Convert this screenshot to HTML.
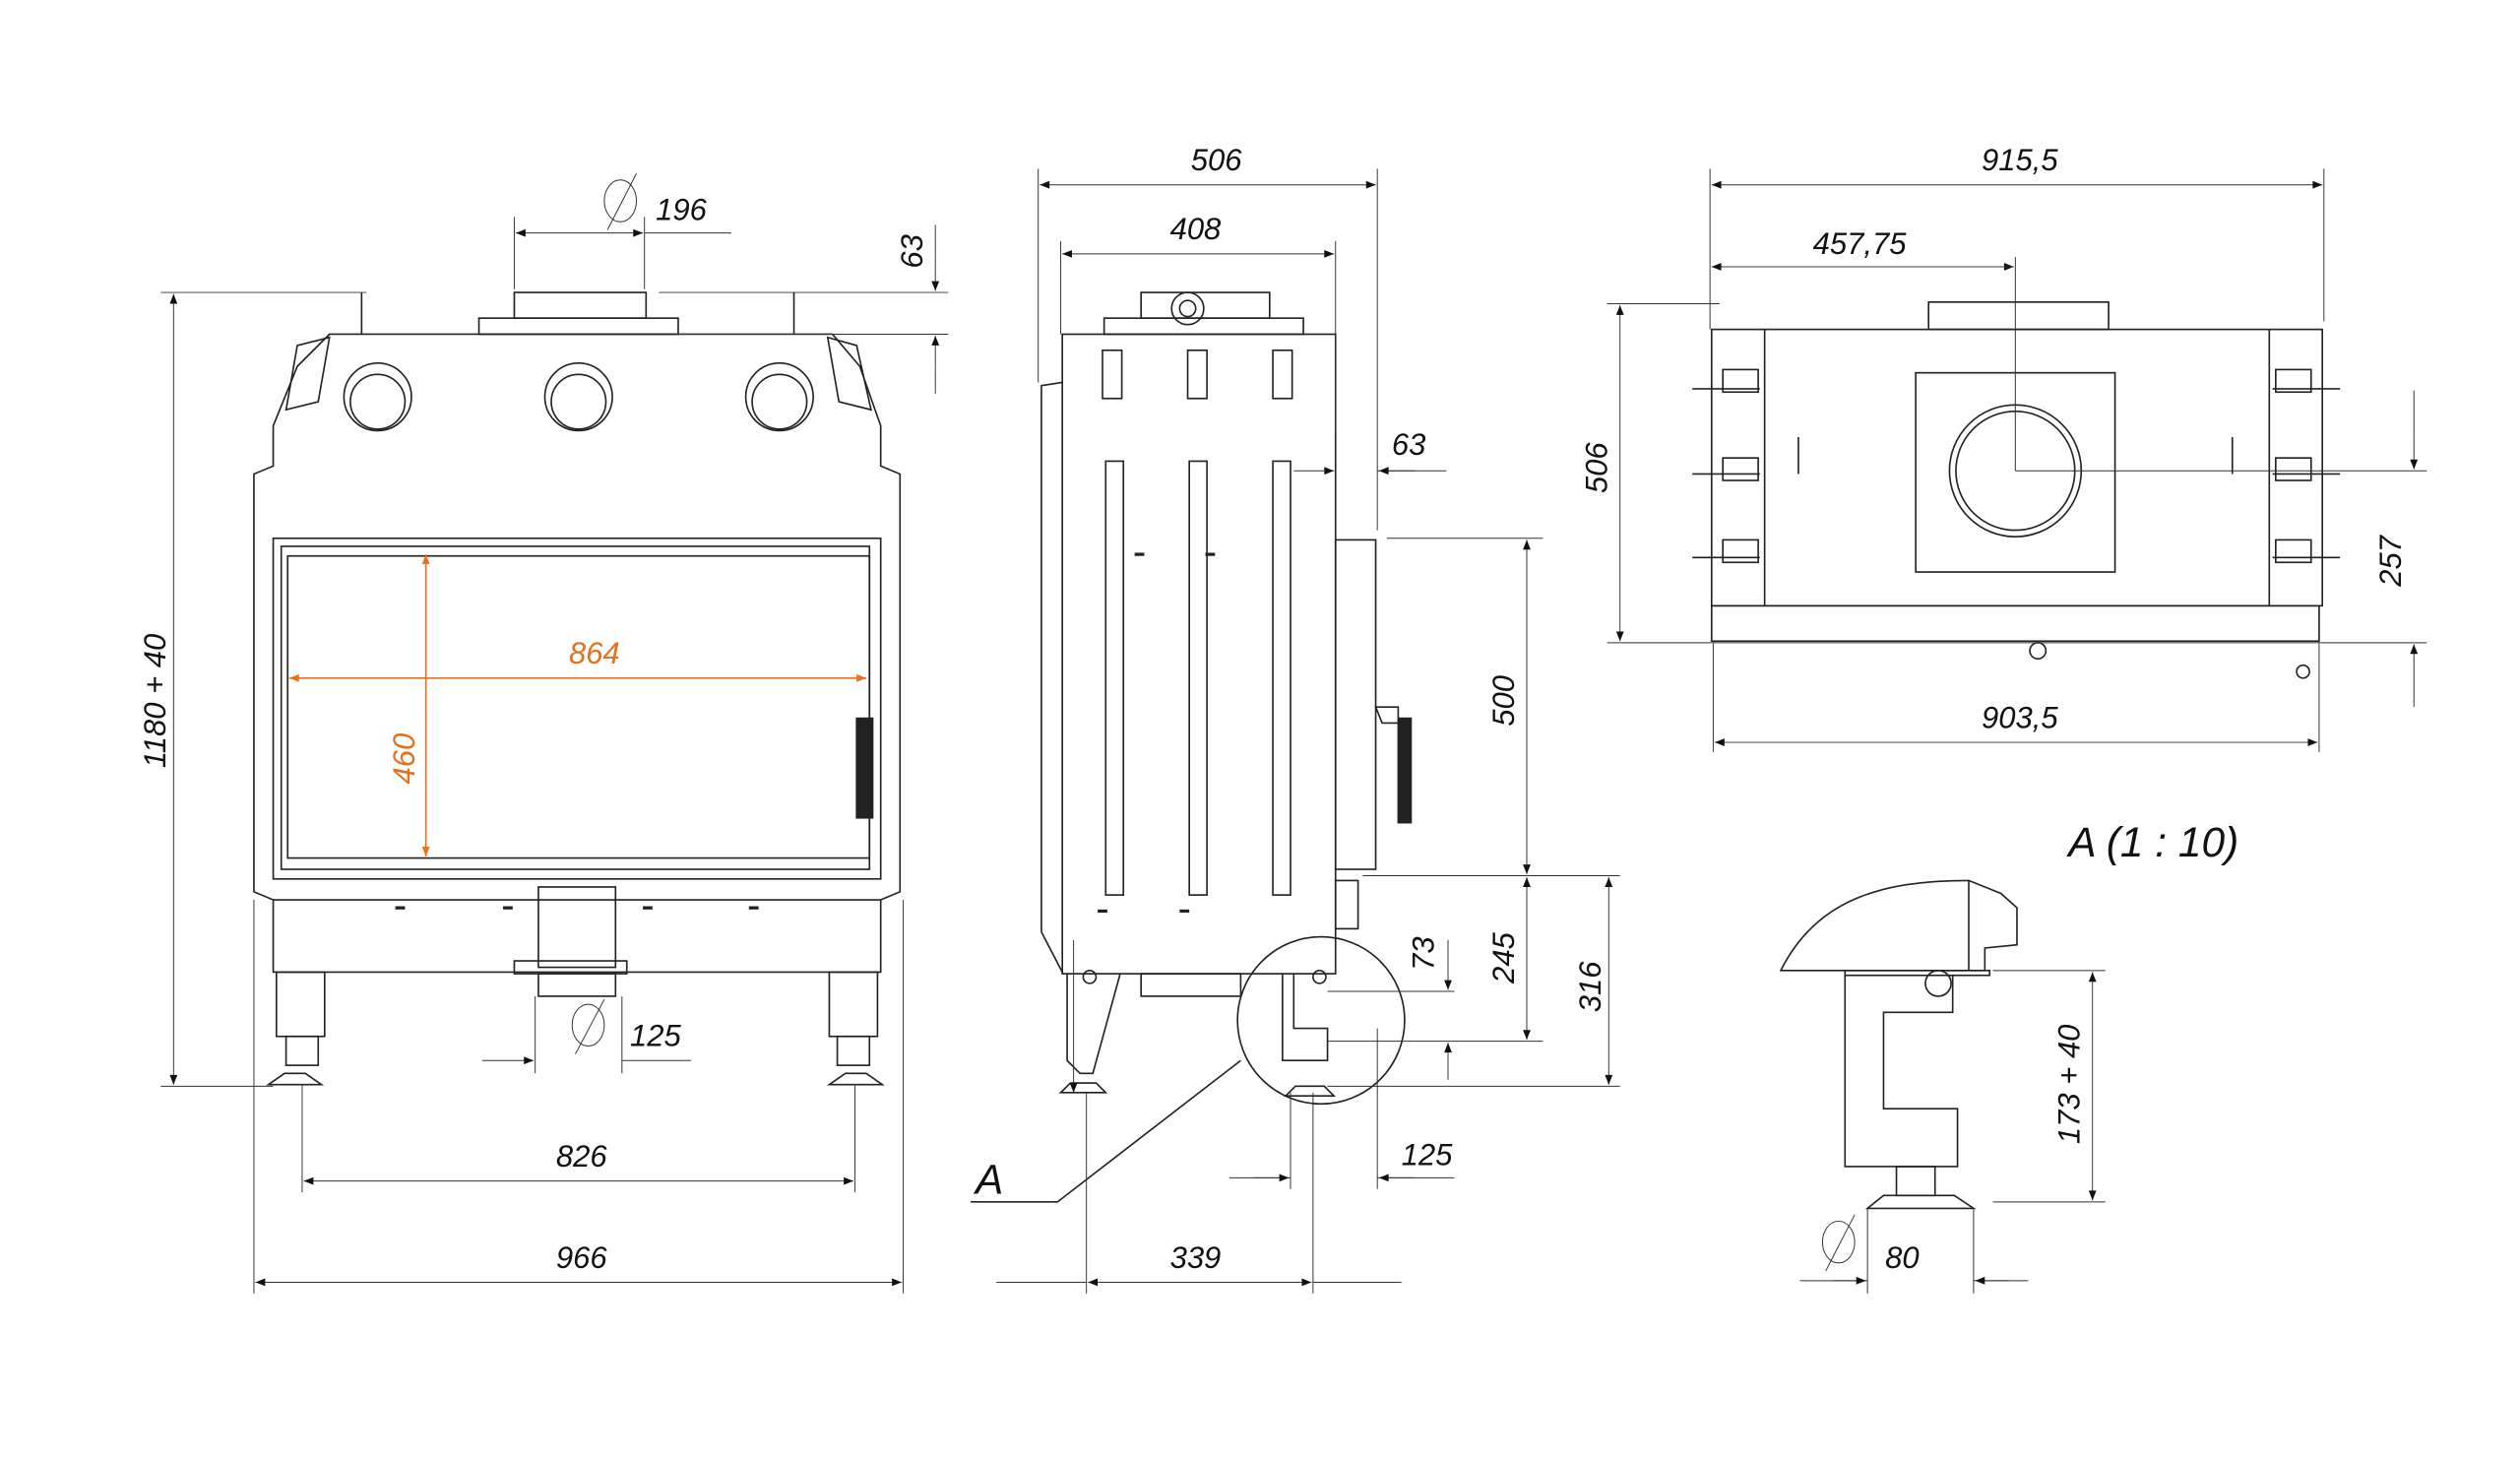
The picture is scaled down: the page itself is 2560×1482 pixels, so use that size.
<!DOCTYPE html>
<html><head><meta charset="utf-8"><style>
html,body{margin:0;padding:0;background:#fff}
svg{display:block}
text{font-family:"Liberation Sans",sans-serif;font-style:italic;font-size:19px;fill:#111}
.l{stroke:#222;stroke-width:1;fill:none}
.t{stroke:#333;stroke-width:0.6;fill:none}
.o{stroke:#e8701a;stroke-width:1;fill:none}
</style></head><body>
<svg width="2560" height="1482" viewBox="0 0 1568 908" preserveAspectRatio="none">
<defs>
<marker id="a" viewBox="0 0 10 10" refX="10" refY="5" markerWidth="10" markerHeight="6" orient="auto-start-reverse" markerUnits="userSpaceOnUse"><path d="M0,1 L10,5 L0,9z" fill="#111"/></marker>
<marker id="ao" viewBox="0 0 10 10" refX="10" refY="5" markerWidth="10" markerHeight="6" orient="auto-start-reverse" markerUnits="userSpaceOnUse"><path d="M0,1 L10,5 L0,9z" fill="#e8701a"/></marker>
</defs>

<!-- FRONT VIEW -->
<g class="l">
<rect x="320" y="182" width="82" height="16"/>
<rect x="298" y="198" width="124" height="10"/>
<line x1="225" y1="182" x2="225" y2="208"/><line x1="494" y1="182" x2="494" y2="208"/>
<path d="M205,208 L518,208 L535,228 L548,265 L548,290 L560,295 L560,555 L548,560 L548,605 L170,605 L170,560 L158,555 L158,295 L170,290 L170,265 L185,228 Z"/>
<path d="M185,215 L205,210 L198,250 L178,255 Z"/>
<path d="M533,215 L515,210 L522,250 L542,255 Z"/>
<circle cx="235" cy="247" r="21"/><circle cx="235" cy="250" r="17"/>
<circle cx="360" cy="247" r="21"/><circle cx="360" cy="250" r="17"/>
<circle cx="485" cy="247" r="21"/><circle cx="485" cy="250" r="17"/>
<rect x="170" y="335" width="378" height="212"/>
<rect x="175" y="340" width="366" height="201"/>
<rect x="179" y="346" width="362" height="188"/>
<rect x="533" y="447" width="10" height="62" fill="#222"/>
<line x1="170" y1="560" x2="548" y2="560"/>
<rect x="335" y="552" width="48" height="50"/>
<rect x="320" y="598" width="70" height="8"/>
<rect x="335" y="606" width="48" height="14"/>
<rect x="172" y="605" width="30" height="40"/><rect x="178" y="645" width="20" height="18"/>
<rect x="516" y="605" width="30" height="40"/><rect x="521" y="645" width="20" height="18"/>
<path d="M167,675 L200,675 L190,668 L177,668 Z"/><path d="M516,675 L549,675 L539,668 L526,668 Z"/>
</g>
<g fill="#222">
<rect x="246" y="564" width="6" height="2"/><rect x="313" y="564" width="6" height="2"/><rect x="400" y="564" width="6" height="2"/><rect x="466" y="564" width="6" height="2"/>
</g>
<!-- front dims -->
<g class="t">
<line x1="100" y1="182" x2="228" y2="182"/><line x1="410" y1="182" x2="590" y2="182"/>
<line x1="420" y1="208" x2="590" y2="208"/>
<line x1="100" y1="676" x2="170" y2="676"/>
<line x1="320" y1="135" x2="320" y2="180"/><line x1="401" y1="135" x2="401" y2="180"/>
<line x1="401" y1="145" x2="455" y2="145"/>
<line x1="158" y1="560" x2="158" y2="805"/><line x1="562" y1="560" x2="562" y2="805"/>
<line x1="188" y1="675" x2="188" y2="742"/><line x1="532" y1="675" x2="532" y2="742"/>
<line x1="333" y1="620" x2="333" y2="668"/><line x1="387" y1="620" x2="387" y2="668"/>
<line x1="387" y1="660" x2="430" y2="660"/>
<line x1="582" y1="140" x2="582" y2="160"/><line x1="582" y1="230" x2="582" y2="245"/>
<ellipse cx="386" cy="125" rx="10" ry="13"/><line x1="378" y1="143" x2="396" y2="108"/>
<ellipse cx="366" cy="638" rx="10" ry="13"/><line x1="358" y1="656" x2="376" y2="622"/>
</g>
<g class="t" marker-end="url(#a)" marker-start="url(#a)">
<line x1="108" y1="183" x2="108" y2="675"/>
<line x1="159" y1="798" x2="561" y2="798"/>
<line x1="189" y1="735" x2="531" y2="735"/>
<line x1="321" y1="145" x2="400" y2="145"/>
</g>
<g class="t" marker-end="url(#a)">
<line x1="582" y1="160" x2="582" y2="181"/><line x1="582" y1="230" x2="582" y2="209"/>
<line x1="300" y1="660" x2="332" y2="660"/>
</g>
<g class="o" marker-end="url(#ao)" marker-start="url(#ao)">
<line x1="180" y1="422" x2="539" y2="422"/>
<line x1="265" y1="345" x2="265" y2="533"/>
</g>
<text x="408" y="137">196</text>
<text x="392" y="651">125</text>
<text x="346" y="726">826</text>
<text x="346" y="789">966</text>
<text x="354" y="413" style="fill:#e8701a">864</text>
<text transform="translate(258,488) rotate(-90)" style="fill:#e8701a">460</text>
<text transform="translate(103,478) rotate(-90)">1180 + 40</text>
<text transform="translate(574,167) rotate(-90)">63</text>

<!-- SIDE VIEW -->
<g class="l">
<rect x="710" y="182" width="80" height="16"/>
<circle cx="739" cy="192" r="10"/><circle cx="739" cy="192" r="5"/>
<rect x="687" y="198" width="124" height="10"/>
<rect x="661" y="208" width="170" height="398"/>
<path d="M661,238 L648,240 L648,580 L661,605"/>
<rect x="686" y="218" width="12" height="30"/><rect x="739" y="218" width="12" height="30"/><rect x="792" y="218" width="12" height="30"/>
<rect x="688" y="287" width="11" height="270"/><rect x="740" y="287" width="11" height="270"/><rect x="792" y="287" width="11" height="270"/>
<rect x="831" y="336" width="25" height="205"/>
<path d="M856,440 L870,440 L870,450 L860,450 Z"/>
<rect x="870" y="447" width="8" height="65" fill="#222"/>
<rect x="831" y="548" width="14" height="30"/>
<rect x="710" y="606" width="62" height="14"/>
<path d="M664,606 L664,660 L672,668 L680,668 L697,606"/>
<path d="M798,606 L798,660 L826,660 L826,640 L805,640 L805,606"/>
<circle cx="678" cy="608" r="4"/><circle cx="821" cy="608" r="4"/>
<path d="M800,682 L830,682 L824,676 L806,676 Z"/>
<path d="M660,680 L688,680 L682,674 L666,674 Z"/>
<circle cx="822" cy="635" r="52"/>
<path d="M772,660 L658,748 L604,748"/>
</g>
<g fill="#222"><rect x="706" y="344" width="6" height="2"/><rect x="750" y="344" width="6" height="2"/><rect x="683" y="566" width="6" height="2"/><rect x="734" y="566" width="6" height="2"/></g>
<g class="t">
<line x1="646" y1="105" x2="646" y2="238"/><line x1="857" y1="105" x2="857" y2="330"/>
<line x1="660" y1="150" x2="660" y2="208"/><line x1="831" y1="150" x2="831" y2="270"/>
<line x1="857" y1="293" x2="900" y2="293"/>
<line x1="863" y1="335" x2="960" y2="335"/>
<line x1="848" y1="545" x2="1008" y2="545"/>
<line x1="826" y1="617" x2="905" y2="617"/>
<line x1="826" y1="648" x2="960" y2="648"/>
<line x1="826" y1="676" x2="1008" y2="676"/>
<line x1="676" y1="680" x2="676" y2="805"/><line x1="817" y1="680" x2="817" y2="805"/>
<line x1="803" y1="680" x2="803" y2="740"/><line x1="857" y1="640" x2="857" y2="740"/>
<line x1="620" y1="798" x2="676" y2="798"/><line x1="817" y1="798" x2="872" y2="798"/>
<line x1="765" y1="733" x2="803" y2="733"/><line x1="857" y1="733" x2="905" y2="733"/>
<line x1="901" y1="585" x2="901" y2="598"/><line x1="901" y1="666" x2="901" y2="672"/>
</g>
<g class="t" marker-end="url(#a)" marker-start="url(#a)">
<line x1="647" y1="115" x2="856" y2="115"/>
<line x1="661" y1="158" x2="830" y2="158"/>
<line x1="950" y1="336" x2="950" y2="544"/>
<line x1="950" y1="546" x2="950" y2="647"/>
<line x1="1001" y1="546" x2="1001" y2="675"/>
<line x1="677" y1="798" x2="816" y2="798"/>
</g>
<g class="t" marker-end="url(#a)">
<line x1="805" y1="293" x2="830" y2="293"/><line x1="880" y1="293" x2="858" y2="293"/>
<line x1="901" y1="598" x2="901" y2="616"/><line x1="901" y1="666" x2="901" y2="649"/>
<line x1="780" y1="733" x2="802" y2="733"/><line x1="880" y1="733" x2="858" y2="733"/>
<line x1="668" y1="585" x2="668" y2="680"/>
</g>
<text x="741" y="106">506</text>
<text x="728" y="149">408</text>
<text x="866" y="283">63</text>
<text x="872" y="725">125</text>
<text x="728" y="789">339</text>
<text x="607" y="743" style="font-size:26px">A</text>
<text transform="translate(942,452) rotate(-90)">500</text>
<text transform="translate(942,612) rotate(-90)">245</text>
<text transform="translate(996,630) rotate(-90)">316</text>
<text transform="translate(892,604) rotate(-90)">73</text>

<!-- TOP VIEW -->
<g class="l">
<rect x="1065" y="205" width="380" height="172"/>
<line x1="1098" y1="205" x2="1098" y2="377"/><line x1="1412" y1="205" x2="1412" y2="377"/>
<rect x="1065" y="377" width="378" height="22"/>
<rect x="1200" y="188" width="112" height="17"/>
<rect x="1192" y="232" width="124" height="124"/>
<circle cx="1254" cy="293" r="41"/><circle cx="1254" cy="293" r="37"/>
<rect x="1072" y="230" width="22" height="14"/><rect x="1072" y="285" width="22" height="14"/><rect x="1072" y="336" width="22" height="14"/>
<rect x="1416" y="230" width="22" height="14"/><rect x="1416" y="285" width="22" height="14"/><rect x="1416" y="336" width="22" height="14"/>
<line x1="1053" y1="242" x2="1095" y2="242"/><line x1="1053" y1="295" x2="1095" y2="295"/><line x1="1053" y1="347" x2="1095" y2="347"/>
<line x1="1414" y1="242" x2="1456" y2="242"/><line x1="1414" y1="295" x2="1456" y2="295"/><line x1="1414" y1="347" x2="1456" y2="347"/>
<line x1="1119" y1="272" x2="1119" y2="295"/><line x1="1389" y1="272" x2="1389" y2="295"/>
<circle cx="1268" cy="405" r="5"/><circle cx="1433" cy="418" r="4"/>
</g>
<g class="t">
<line x1="1064" y1="105" x2="1064" y2="205"/><line x1="1446" y1="105" x2="1446" y2="200"/>
<line x1="1254" y1="160" x2="1254" y2="293"/><line x1="1254" y1="293" x2="1510" y2="293"/>
<line x1="1000" y1="189" x2="1070" y2="189"/><line x1="1000" y1="400" x2="1510" y2="400"/>
<line x1="1066" y1="400" x2="1066" y2="468"/><line x1="1443" y1="400" x2="1443" y2="468"/>
<line x1="1502" y1="243" x2="1502" y2="270"/><line x1="1502" y1="420" x2="1502" y2="440"/>
</g>
<g class="t" marker-end="url(#a)" marker-start="url(#a)">
<line x1="1065" y1="115" x2="1445" y2="115"/>
<line x1="1008" y1="190" x2="1008" y2="399"/>
<line x1="1067" y1="462" x2="1442" y2="462"/>
</g>
<g class="t" marker-end="url(#a)">
<line x1="1065" y1="166" x2="1253" y2="166"/><line x1="1253" y1="166" x2="1065" y2="166"/>
<line x1="1502" y1="270" x2="1502" y2="292"/><line x1="1502" y1="420" x2="1502" y2="401"/>
</g>
<text x="1233" y="106">915,5</text>
<text x="1128" y="158">457,75</text>
<text x="1233" y="453">903,5</text>
<text transform="translate(1000,307) rotate(-90)">506</text>
<text transform="translate(1494,365) rotate(-90)">257</text>

<!-- DETAIL A -->
<text x="1287" y="533" style="font-size:26px">A (1 : 10)</text>
<g class="l">
<path d="M1108,604 C1130,560 1170,548 1225,548 L1245,556 L1255,565 L1255,588 L1235,590 L1235,604 Z"/>
<line x1="1225" y1="548" x2="1225" y2="604"/>
<rect x="1148" y="604" width="90" height="3"/>
<path d="M1148,607 L1148,726 L1218,726 L1218,690 L1172,690 L1172,630 L1215,630 L1215,607"/>
<circle cx="1206" cy="612" r="8"/>
<rect x="1180" y="726" width="24" height="18"/>
<path d="M1162,752 L1228,752 L1216,744 L1172,744 Z"/>
</g>
<g class="t">
<line x1="1240" y1="604" x2="1310" y2="604"/><line x1="1240" y1="748" x2="1310" y2="748"/>
<line x1="1162" y1="752" x2="1162" y2="805"/><line x1="1228" y1="752" x2="1228" y2="805"/>
<line x1="1120" y1="797" x2="1162" y2="797"/><line x1="1228" y1="797" x2="1262" y2="797"/>
<ellipse cx="1144" cy="773" rx="10" ry="13"/><line x1="1136" y1="791" x2="1154" y2="756"/>
</g>
<g class="t" marker-end="url(#a)" marker-start="url(#a)"><line x1="1302" y1="605" x2="1302" y2="747"/></g>
<g class="t" marker-end="url(#a)"><line x1="1140" y1="797" x2="1161" y2="797"/><line x1="1250" y1="797" x2="1229" y2="797"/></g>
<text x="1173" y="789">80</text>
<text transform="translate(1294,712) rotate(-90)">173 + 40</text>
</svg>
</body></html>
